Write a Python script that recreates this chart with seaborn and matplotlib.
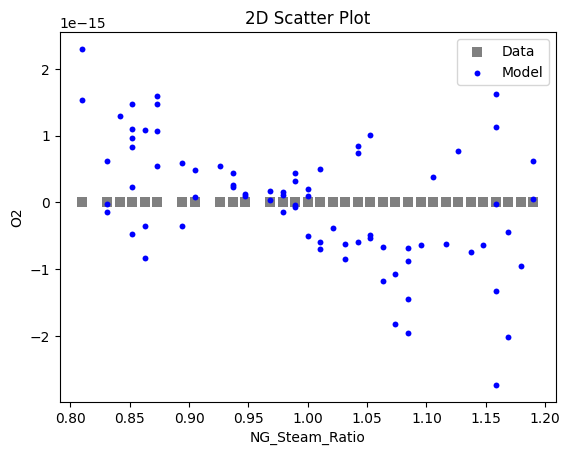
# 2D scatter of data vs model for O2 against NG_Steam_Ratio
import numpy as np
import matplotlib
matplotlib.use('Agg')
import matplotlib.pyplot as plt
import seaborn as sns
import pandas as pd

ng_steam_ratio = [0.8100, 0.8100,
                  0.8311, 0.8311, 0.8311,
                  0.8417,
                  0.8522, 0.8522, 0.8522, 0.8522, 0.8522, 0.8522,
                  0.8628, 0.8628, 0.8628,
                  0.8733, 0.8733, 0.8733, 0.8733,
                  0.8944, 0.8944,
                  0.9050, 0.9050,
                  0.9261,
                  0.9367, 0.9367, 0.9367,
                  0.9472, 0.9472,
                  0.9683, 0.9683,
                  0.9789, 0.9789, 0.9789,
                  0.9894, 0.9894, 0.9894, 0.9894,
                  1.0000, 1.0000, 1.0000,
                  1.0106, 1.0106, 1.0106,
                  1.0211,
                  1.0317, 1.0317,
                  1.0422, 1.0422, 1.0422,
                  1.0528, 1.0528, 1.0528,
                  1.0633, 1.0633,
                  1.0739, 1.0739,
                  1.0844, 1.0844, 1.0844, 1.0844,
                  1.0950,
                  1.1056,
                  1.1161,
                  1.1267,
                  1.1372,
                  1.1478,
                  1.1583, 1.1583, 1.1583, 1.1583, 1.1583,
                  1.1689, 1.1689,
                  1.1794,
                  1.1900, 1.1900]

# model O2 in units of 1e-15
o2_model = [2.30, 1.54,
            0.62, -0.03, -0.14,
            1.30,
            1.48, 1.10, 0.97, 0.83, 0.235, -0.47,
            1.09, -0.36, -0.83,
            1.60, 1.48, 1.07, 0.55,
            0.59, -0.35,
            0.48, 0.085,
            0.55,
            0.445, 0.265, 0.225,
            0.13, 0.10,
            0.175, 0.04,
            0.16, 0.115, -0.14,
            0.445, 0.325, -0.035, -0.065,
            0.205, 0.10, -0.50,
            0.50, -0.60, -0.69,
            -0.38,
            -0.62, -0.84,
            0.85, 0.745, -0.59,
            1.01, -0.49, -0.54,
            -0.66, -1.17,
            -1.07, -1.82,
            -0.68, -0.87, -1.44, -1.95,
            -0.63,
            0.385,
            -0.62,
            0.775,
            -0.74,
            -0.63,
            1.63, 1.13, -0.02, -1.32, -2.73,
            -0.45, -2.01,
            -0.95,
            0.625, 0.055]

o2_data = [0.0] * len(ng_steam_ratio)

df = pd.DataFrame({'NG_Steam_Ratio': ng_steam_ratio,
                   'Data': o2_data,
                   'Model': np.array(o2_model) * 1e-15})

fig, ax = plt.subplots(figsize=(6.4, 4.8), dpi=100)
sns.scatterplot(data=df, x='NG_Steam_Ratio', y='Data', marker='s', color='gray',
                s=48, linewidth=0, label='Data', ax=ax)
sns.scatterplot(data=df, x='NG_Steam_Ratio', y='Model', marker='o', color='blue',
                s=18, linewidth=0, label='Model', ax=ax)

ax.set_title('2D Scatter Plot')
ax.set_xlabel('NG_Steam_Ratio')
ax.set_ylabel('O2')
ax.legend(loc='upper right')

plt.savefig('out.png', bbox_inches='tight')
